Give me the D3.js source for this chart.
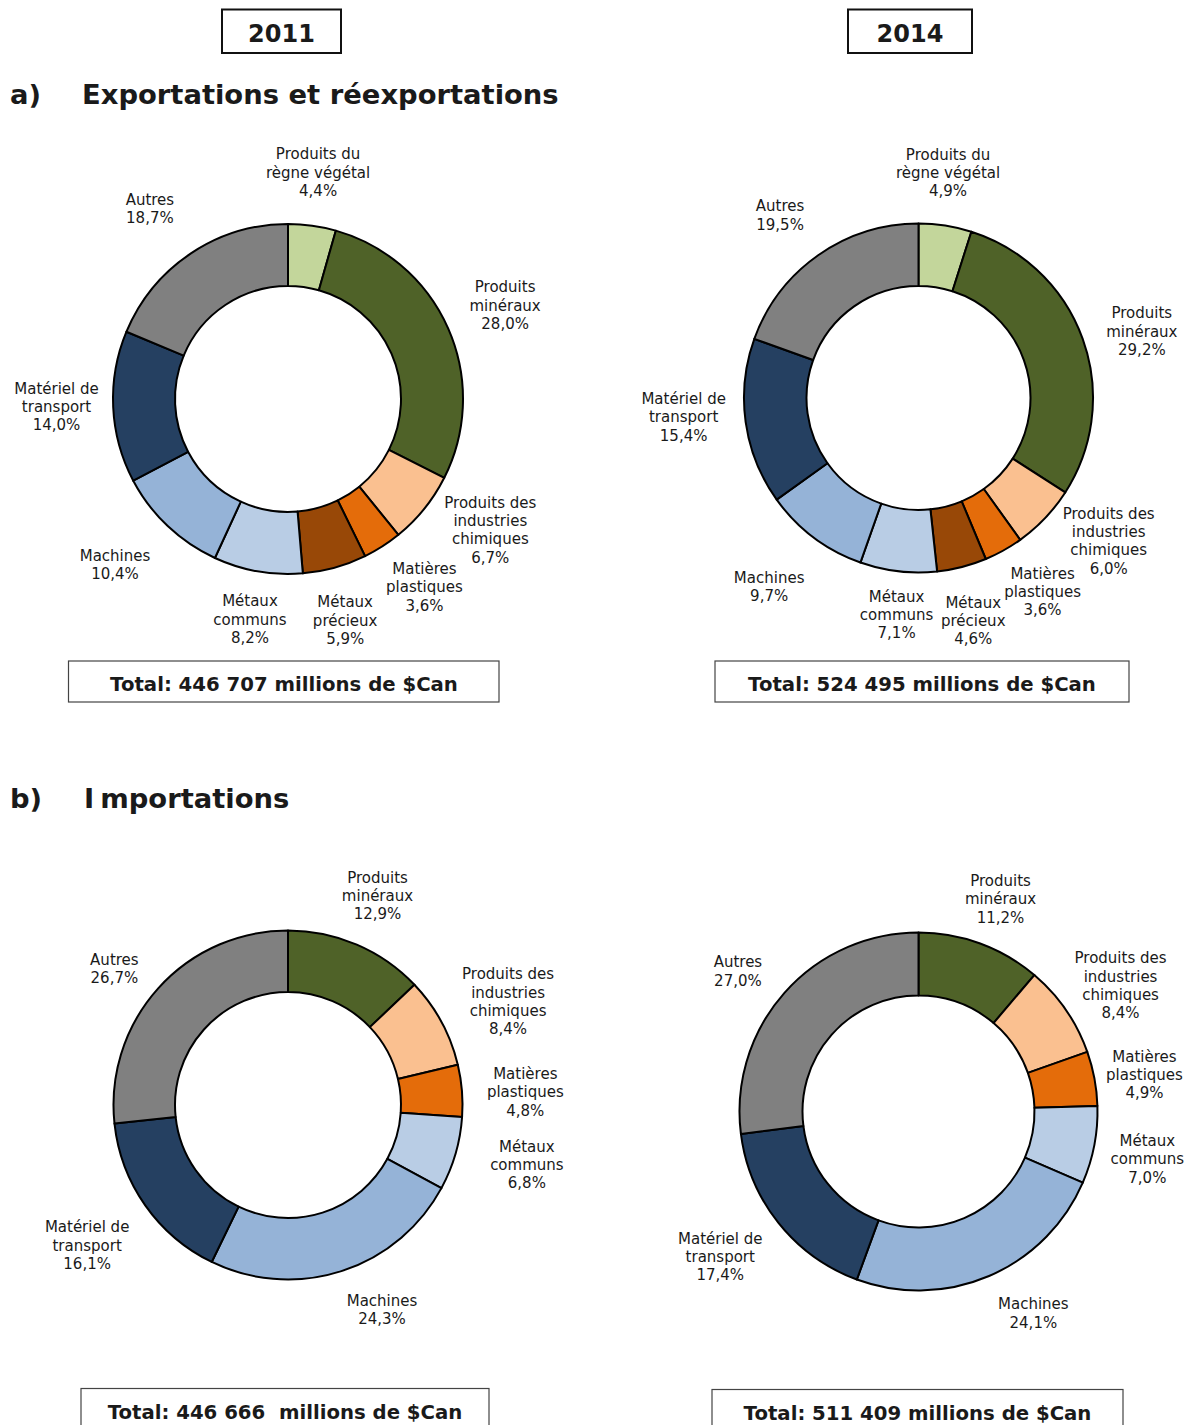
<!DOCTYPE html>
<html>
<head>
<meta charset="utf-8">
<script src="https://cdn.jsdelivr.net/npm/d3@7"></script>
<style>
  html, body { margin: 0; padding: 0; background: #fff; }
  svg { display: block; }
  text { font-family: "DejaVu Sans", Verdana, sans-serif; fill: #1a1a1a; }
</style>
</head>
<body>
<svg id="chart" width="1184" height="1425"></svg>
<script>
// ---------- DATA ----------
const categoryLabels = [
  ["Produits du", "règne végétal"],
  ["Produits", "minéraux"],
  ["Produits des", "industries", "chimiques"],
  ["Matières", "plastiques"],
  ["Métaux", "précieux"],
  ["Métaux", "communs"],
  ["Machines"],
  ["Matériel de", "transport"],
  ["Autres"]
];
const categoryColors = ["#c3d69b", "#4f6228", "#fac090", "#e46c0a", "#984807",
                        "#b9cde5", "#95b3d7", "#254061", "#808080"];

const exports2011 = [4.4, 28.0, 6.7, 3.6, 5.9, 8.2, 10.4, 14.0, 18.7];
const exports2014 = [4.9, 29.2, 6.0, 3.6, 4.6, 7.1, 9.7, 15.4, 19.5];
const imports2011 = [null, 12.9, 8.4, 4.8, null, 6.8, 24.3, 16.1, 26.7];
const imports2014 = [null, 11.2, 8.4, 4.9, null, 7.0, 24.1, 17.4, 27.0];

const years = ["2011", "2014"];
const sectionTitles = [["a)", "Exportations et réexportations"], ["b)", "Importations"]];
const totalsText = [
  "Total: 446 707 millions de $Can",
  "Total: 524 495 millions de $Can",
  "Total: 446 666  millions de $Can",
  "Total: 511 409 millions de $Can"
];

// ---------- LAYOUT (positions / sizes, kept apart from data) ----------
const charts = [
  { values: exports2011, cx: 288,   cy: 399,    r: 175,   ir: 113,
    box: { x: 68.5, y: 661,    w: 430.5, h: 41, tx: 284 },
    nudge: [[-2,4],[4,0],[21,-15],[11,-8],[-5,-3],[2,-9],[-13,-3],[1,-3],[-9,3]] },
  { values: exports2014, cx: 918.5, cy: 398,    r: 174.5, ir: 112,
    box: { x: 715,  y: 661,    w: 414,   h: 41, tx: 922 },
    nudge: [[-6,4],[5,12],[22,-17],[11,-9],[-3,-2],[5,-14],[-10,3],[-5,-13],[-5,7]] },
  { values: imports2011, cx: 288,   cy: 1105,   r: 174.5, ir: 113,
    box: { x: 81,   y: 1388.5, w: 408,   h: 50, tx: 285 },
    nudge: [null,[-2,4],[16,7],[6,6],null,[16,-5],[23,-16],[-11,7],[-1,19]] },
  { values: imports2014, cx: 918.5, cy: 1111.5, r: 179,   ir: 116,
    box: { x: 712,  y: 1389.5, w: 411,   h: 50, tx: 917.5 },
    nudge: [null,[0,11],[6,9],[-8,7],null,[-5,3],[21,-17],[-12,-3],[-2,17]] }
];
const labelK = 1.33;
const lineH = 18.3;

const svg = d3.select("#chart");
const fmt = v => d3.format(".1f")(v).replace(".", ",") + "%";

// Year boxes
const yearBoxes = [{ x: 222, w: 119 }, { x: 848, w: 124 }];
years.forEach((y, i) => {
  const b = yearBoxes[i];
  svg.append("rect").attr("x", b.x).attr("y", 9.5).attr("width", b.w).attr("height", 43.5)
    .attr("fill", "#fff").attr("stroke", "#111").attr("stroke-width", 2);
  svg.append("text").attr("x", b.x + b.w / 2).attr("y", 42).attr("text-anchor", "middle")
    .style("font-size", "24px").style("font-weight", "bold").attr("fill", "#111").text(y);
});

// Section titles
const titleY = [104, 808];
sectionTitles.forEach((t, i) => {
  svg.append("text").attr("x", 10).attr("y", titleY[i])
    .style("font-size", "27.4px").style("font-weight", "bold").attr("fill", "#111").text(t[0]);
  const tt = svg.append("text").attr("x", i === 0 ? 82 : 84).attr("y", titleY[i])
    .style("font-size", "27.4px").style("font-weight", "bold").attr("fill", "#111");
  if (i === 1) {
    tt.append("tspan").text(t[1].slice(0, 1));
    tt.append("tspan").attr("dx", 6).text(t[1].slice(1));
  } else {
    tt.text(t[1]);
  }
});

// Donuts
charts.forEach((c, ci) => {
  const data = c.values.map((v, i) => ({ i, v })).filter(d => d.v !== null);
  const pie = d3.pie().sort(null).value(d => d.v);
  const arcs = pie(data);
  const arc = d3.arc().innerRadius(c.ir).outerRadius(c.r);
  const g = svg.append("g").attr("transform", `translate(${c.cx},${c.cy})`);

  g.selectAll("path").data(arcs).join("path")
    .attr("d", arc)
    .attr("fill", d => categoryColors[d.data.i])
    .attr("stroke", "#000")
    .attr("stroke-width", 2)
    .attr("stroke-linejoin", "round");

  const lg = g.selectAll("g.lbl").data(arcs).join("g").attr("class", "lbl");
  lg.each(function(d) {
    const a = (d.startAngle + d.endAngle) / 2;
    const rr = c.r * labelK;
    const n = c.nudge[d.data.i] || [0, 0];
    const x = Math.sin(a) * rr + n[0];
    const y = -Math.cos(a) * rr + n[1];
    const lines = categoryLabels[d.data.i].concat([fmt(d.data.v)]);
    const t = d3.select(this).append("text").attr("text-anchor", "middle")
      .style("font-size", "15px");
    const y0 = y - (lines.length - 1) * lineH / 2 + 5.3;
    lines.forEach((ln, k) => {
      t.append("tspan").attr("x", x).attr("y", y0 + k * lineH).text(ln);
    });
  });

  // Total box
  const b = c.box;
  svg.append("rect").attr("x", b.x).attr("y", b.y).attr("width", b.w).attr("height", b.h)
    .attr("fill", "#fff").attr("stroke", "#444").attr("stroke-width", 1.2);
  svg.append("text").attr("x", b.tx).attr("y", b.y + 30).attr("text-anchor", "middle")
    .style("font-size", "19.7px").style("font-weight", "bold").style("white-space", "pre")
    .attr("fill", "#111").text(totalsText[ci]);
});
</script>
</body>
</html>
